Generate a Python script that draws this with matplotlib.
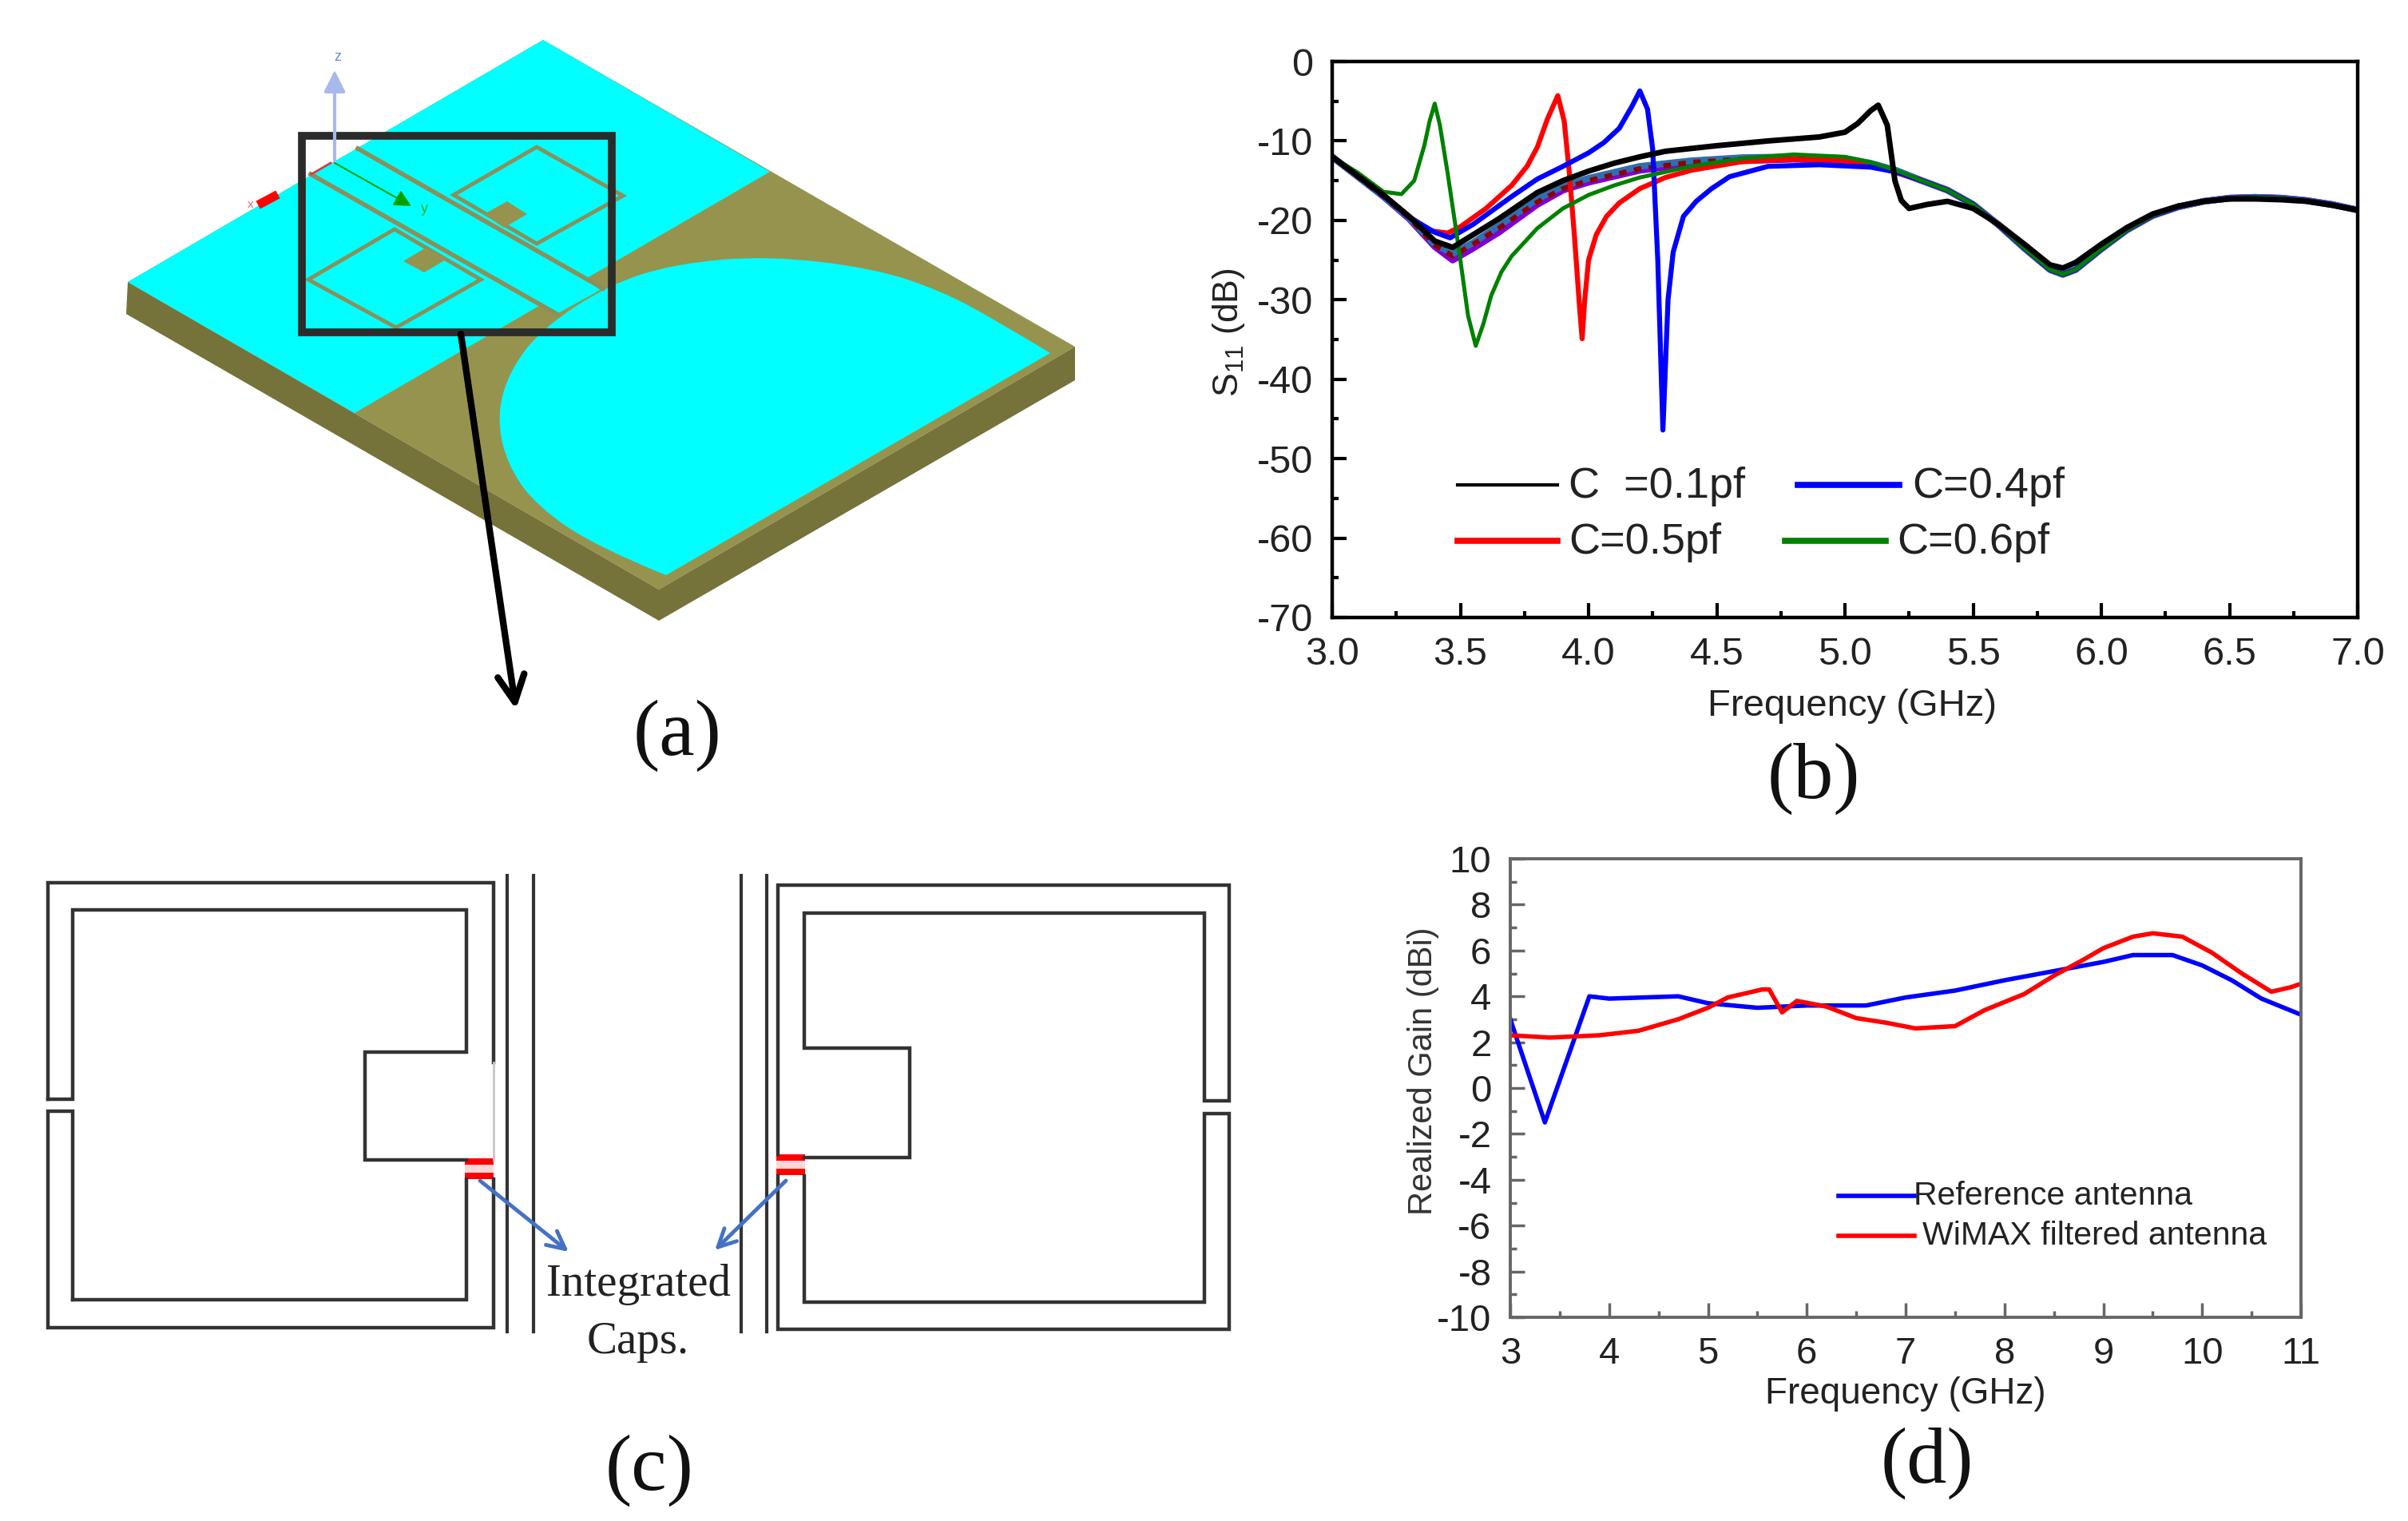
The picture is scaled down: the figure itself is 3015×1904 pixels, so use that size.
import matplotlib
matplotlib.use('Agg')
import matplotlib.pyplot as plt
from matplotlib.patches import PathPatch, Polygon, Rectangle
from matplotlib.path import Path
from matplotlib.ticker import MultipleLocator

W, H = 3015, 1904

# (b) S11 curves, shared tail above 5.3 GHz
tail_freq = [5.3, 5.4, 5.5, 5.6, 5.7, 5.8, 5.85, 5.9, 6.0, 6.1, 6.2, 6.3, 6.4, 6.5, 6.6, 6.7, 6.8, 6.9, 7.0]
tail_s11 = [-15, -16.2, -18, -20.6, -23.5, -26.2, -26.8, -26.2, -23.6, -21.2, -19.4, -18.3, -17.6, -17.2, -17.1, -17.2, -17.5, -18, -18.7]

freq_family = [3.0, 3.1, 3.2, 3.3, 3.4, 3.47, 3.55, 3.65, 3.8, 3.9, 4.0, 4.2, 4.4, 4.6, 4.8, 5.0, 5.1, 5.2]
s11_purple = [-12, -14.5, -17, -19.8, -23.3, -25, -23.5, -21.5, -18, -16.2, -15.2, -13.7, -12.9, -12.5, -12.3, -12.5, -13, -13.8]
s11_steel = [-12, -14.5, -17, -19.7, -23, -24.2, -22.8, -20.7, -17.3, -15.7, -14.7, -13.2, -12.5, -12.1, -12, -12.2, -12.8, -13.7]
s11_maroon = [-12, -14.5, -17, -19.7, -23.1, -24.5, -23, -21, -17.7, -16, -15, -13.5, -12.7, -12.3, -12.1, -12.4, -12.9, -13.8]

freq_red = [3.0, 3.1, 3.2, 3.3, 3.38, 3.45, 3.5, 3.6, 3.7, 3.76, 3.8, 3.84, 3.88, 3.905, 3.925, 3.945, 3.965, 3.975, 3.985, 4.0, 4.03, 4.07, 4.12, 4.2, 4.3, 4.4, 4.6, 4.8, 5.0, 5.1, 5.2]
s11_red = [-12, -14.3, -16.8, -19.5, -21.3, -21.6, -20.8, -18.5, -15.6, -13.2, -10.8, -7.2, -4.3, -7.5, -14, -22, -31, -34.9, -30, -25, -21.8, -19.5, -17.8, -16, -14.6, -13.7, -12.6, -12.3, -12.5, -13, -14]

freq_blue = [3.0, 3.1, 3.2, 3.3, 3.4, 3.46, 3.55, 3.7, 3.8, 3.9, 4.0, 4.06, 4.12, 4.17, 4.2, 4.23, 4.25, 4.27, 4.29, 4.31, 4.33, 4.37, 4.42, 4.48, 4.55, 4.7, 4.9, 5.1, 5.2]
s11_blue = [-12, -14.4, -16.9, -19.6, -21.5, -22.2, -20.5, -17, -14.8, -13.2, -11.5, -10.2, -8.4, -5.6, -3.7, -6, -11, -25, -46.4, -30, -24, -19.5, -17.6, -16, -14.5, -13.2, -13, -13.3, -13.9]

freq_green = [3.0, 3.1, 3.2, 3.27, 3.32, 3.36, 3.38, 3.4, 3.42, 3.45, 3.48, 3.5, 3.53, 3.56, 3.59, 3.62, 3.66, 3.7, 3.8, 3.9, 4.0, 4.1, 4.2, 4.4, 4.6, 4.8, 5.0, 5.1, 5.2]
s11_green = [-12, -14, -16.4, -16.7, -15, -10.5, -7.5, -5.3, -8, -14, -20.5, -25, -32, -35.8, -33, -29.5, -26.5, -24.5, -21, -18.5, -16.8, -15.6, -14.6, -13.2, -12.2, -11.7, -12, -12.7, -13.7]

freq_black = [3.0, 3.1, 3.2, 3.3, 3.4, 3.47, 3.55, 3.65, 3.8, 3.9, 4.0, 4.1, 4.2, 4.3, 4.5, 4.7, 4.9, 5.0, 5.05, 5.1, 5.13, 5.165, 5.195, 5.22, 5.25, 5.32, 5.4, 5.5, 5.6, 5.7, 5.8, 5.85, 5.9, 6.0, 6.1, 6.2, 6.3, 6.4, 6.5, 6.6, 6.7, 6.8, 6.9, 7.0]
s11_black = [-12, -14.4, -16.8, -19.5, -22.6, -23.4, -21.8, -19.8, -16.5, -15, -13.8, -12.8, -12, -11.3, -10.6, -10, -9.5, -8.9, -7.8, -6.2, -5.5, -8, -15, -17.5, -18.5, -18, -17.6, -18.5, -20.5, -23, -25.6, -26, -25.3, -23, -20.9, -19.2, -18.2, -17.6, -17.3, -17.3, -17.4, -17.6, -18.1, -18.7]

# (d) realized gain
freq_ref = [3.0, 3.35, 3.8, 4.0, 4.7, 5.0, 5.5, 6.0, 6.6, 7.0, 7.5, 8.0, 8.5, 9.0, 9.3, 9.7, 10.0, 10.3, 10.6, 11.0]
gain_ref = [3.0, -1.5, 4.0, 3.9, 4.0, 3.7, 3.5, 3.6, 3.6, 3.95, 4.25, 4.7, 5.1, 5.5, 5.8, 5.8, 5.35, 4.7, 3.9, 3.2]
freq_wimax = [3.0, 3.4, 3.9, 4.3, 4.7, 5.0, 5.2, 5.55, 5.62, 5.75, 5.9, 6.2, 6.5, 6.8, 7.1, 7.5, 7.8, 8.2, 8.5, 8.8, 9.0, 9.3, 9.5, 9.8, 10.1, 10.4, 10.7, 10.9, 11.0]
gain_wimax = [2.3, 2.2, 2.3, 2.5, 3.0, 3.5, 3.95, 4.3, 4.3, 3.3, 3.8, 3.55, 3.05, 2.85, 2.6, 2.7, 3.4, 4.1, 4.9, 5.6, 6.1, 6.6, 6.75, 6.6, 5.9, 5.0, 4.2, 4.4, 4.55]

# (a) antenna drawing, pixel positions
board_top = [(680, 50), (1346, 434), (825, 738), (160, 353)]
board_left = [(160, 353), (158, 393), (825, 777), (825, 738)]
board_right = [(825, 738), (825, 777), (1346, 476), (1346, 434)]
ground_cyan = [(680, 50), (964, 215), (444, 517), (160, 353)]
feed_cyan = [(448, 186), (755, 361), (697, 393), (389, 218)]
disc_pts = [(1315, 442), (1244, 399), (1178, 364), (1095, 336), (962, 320), (846, 330), (763, 356), (680, 410),
            (639, 462), (622, 519), (634, 580), (672, 634), (750, 686), (834, 720)]
srr_upper = [(672, 184), (780, 245), (672, 305), (568, 244)]
srr_lower = [(494, 287), (602, 350), (496, 410), (386, 350)]
stub_upper = [(635, 252), (660, 268), (631, 285), (606, 268)]
stub_lower = [(533, 310), (560, 324), (531, 341), (505, 327)]
end_bit = [(738, 350), (763, 335), (763, 359), (751, 363)]

# (c) resonators, pixel positions
left_paths = [
    [(60, 1376), (60, 1105), (618, 1105), (618, 1330)],
    [(60, 1376), (91, 1376), (91, 1139), (584, 1139), (584, 1317), (457, 1317), (457, 1452), (584, 1452)],
    [(91, 1627), (91, 1391), (60, 1391), (60, 1662), (618, 1662), (618, 1476)],
    [(91, 1627), (584, 1627), (584, 1476)],
]
right_paths = [
    [(974, 1445), (974, 1108), (1539, 1108), (1539, 1378), (1508, 1378), (1508, 1143), (1007, 1143), (1007, 1312), (1139, 1312), (1139, 1449), (1007, 1449)],
    [(974, 1472), (974, 1664), (1539, 1664), (1539, 1394), (1508, 1394), (1508, 1630), (1007, 1630), (1007, 1472)],
]
cpw_x = [635, 668, 928, 960]
caps_left = [(582, 1450), (582, 1468)]
caps_right = [(972, 1445), (972, 1463)]

plt.rcParams['font.family'] = ['Liberation Sans', 'DejaVu Sans']
plt.rcParams['axes.unicode_minus'] = False
plt.rcParams['mathtext.default'] = 'regular'

fig = plt.figure(figsize=(W / 100, H / 100), dpi=100)


def add_axes_px(left, top, right, bottom):
    return fig.add_axes([left / W, 1 - bottom / H, (right - left) / W, (bottom - top) / H])


def smooth_patch(pts, color):
    verts = [pts[0]]
    codes = [Path.MOVETO]
    for i in range(1, len(pts) - 1):
        nxt = pts[i + 1] if i == len(pts) - 2 else ((pts[i][0] + pts[i + 1][0]) / 2, (pts[i][1] + pts[i + 1][1]) / 2)
        verts += [pts[i], nxt]
        codes += [Path.CURVE3, Path.CURVE3]
    verts.append(pts[0])
    codes.append(Path.CLOSEPOLY)
    return PathPatch(Path(verts, codes), fc=color, ec='none')


# panel b
axb = add_axes_px(1668, 77, 2952, 773)
axb.plot(freq_family + tail_freq, s11_purple + tail_s11, color='#8000d0', lw=6)
axb.plot(freq_family + tail_freq, s11_steel + tail_s11, color='#2f6fae', lw=6)
axb.plot(freq_family + tail_freq, s11_maroon + tail_s11, color='#8b0000', lw=4.5, ls=(0, (1.5, 1.5)))
axb.plot(freq_red + tail_freq, s11_red + tail_s11, color='#ff0000', lw=4.5)
axb.plot(freq_blue + tail_freq, s11_blue + tail_s11, color='#0000ff', lw=4.5)
axb.plot(freq_green + tail_freq, s11_green + tail_s11, color='#008000', lw=3.6)
axb.plot(freq_black, s11_black, color='#000000', lw=5)
axb.set_xlim(3, 7)
axb.set_ylim(-70, 0)
axb.xaxis.set_major_locator(MultipleLocator(0.5))
axb.xaxis.set_minor_locator(MultipleLocator(0.25))
axb.yaxis.set_major_locator(MultipleLocator(10))
axb.yaxis.set_minor_locator(MultipleLocator(5))
axb.tick_params(which='major', direction='in', length=13, width=3, labelsize=35, pad=17, labelcolor='#222222')
axb.tick_params(which='minor', direction='in', length=6, width=3)
for s in axb.spines.values():
    s.set_linewidth(3.2)
axb.set_xlabel('Frequency (GHz)', fontsize=34, color='#222222', va='center')
axb.xaxis.set_label_coords(0.507, -0.16)
axb.set_ylabel('S$_{11}$ (dB)', fontsize=32, color='#222222', va='center')
axb.yaxis.set_label_coords(-0.101, 0.513)

# panel d
axd = add_axes_px(1891, 1075, 2881, 1649)
axd.plot(freq_ref, gain_ref, color='#0000ff', lw=4)
axd.plot(freq_wimax, gain_wimax, color='#ff0000', lw=4)
axd.set_xlim(3, 11)
axd.set_ylim(-10, 10)
axd.xaxis.set_major_locator(MultipleLocator(1))
axd.xaxis.set_minor_locator(MultipleLocator(0.5))
axd.yaxis.set_major_locator(MultipleLocator(2))
axd.yaxis.set_minor_locator(MultipleLocator(1))
axd.tick_params(which='major', direction='in', length=13, width=2.5, color='#666666', labelsize=34, pad=17, labelcolor='#222222')
axd.tick_params(which='minor', direction='in', length=6, width=2.5, color='#666666')
for s in axd.spines.values():
    s.set_linewidth(2.8)
    s.set_color('#666666')
axd.set_xlabel('Frequency (GHz)', fontsize=33, color='#222222', va='center')
axd.xaxis.set_label_coords(0.5, -0.168)
axd.set_ylabel('Realized Gain (dBi)', fontsize=30, color='#333333', va='center')
axd.yaxis.set_label_coords(-0.11, 0.537)

# pixel overlay for the drawings, legends and panel letters
ov = fig.add_axes([0, 0, 1, 1], zorder=5)
ov.set_xlim(0, W)
ov.set_ylim(H, 0)
ov.axis('off')

# panel a
ov.add_patch(Polygon(board_top, fc='#96934f', ec='none'))
ov.add_patch(Polygon(board_left, fc='#75723a', ec='none'))
ov.add_patch(Polygon(board_right, fc='#75723a', ec='none'))
ov.add_patch(Polygon(ground_cyan, fc='#00ffff', ec='none'))
ov.add_patch(smooth_patch(disc_pts, '#00ffff'))
ov.add_patch(Polygon(feed_cyan, fc='#00ffff', ec='none'))
ov.plot([448, 755], [186, 361], color='#8c8f5a', lw=4)
ov.plot([389, 697], [218, 393], color='#8c8f5a', lw=4)
ov.add_patch(Polygon(end_bit, fc='#96934f', ec='none'))
for shape in (srr_upper, srr_lower):
    ov.add_patch(Polygon(shape, fc='none', ec='#8c8f5a', lw=3.5))
for shape in (stub_upper, stub_lower):
    ov.add_patch(Polygon(shape, fc='#96934f', ec='none'))
ov.annotate('', xy=(419, 88), xytext=(419, 204),
            arrowprops=dict(arrowstyle='-|>', color='#a9b8ec', lw=3, mutation_scale=40, shrinkA=0, shrinkB=0))
ov.add_patch(Polygon([(419, 89), (411, 116), (427, 116)], fc='#4169e1', ec='none'))
ov.text(423, 72, 'z', fontsize=13, color='#6f86e0', ha='center', va='center')
ov.annotate('', xy=(515, 258), xytext=(419, 204),
            arrowprops=dict(arrowstyle='-|>', color='#00a000', lw=1.5, mutation_scale=32, shrinkA=0, shrinkB=0))
ov.text(531, 261, 'y', fontsize=13, color='#30b030', ha='center', va='center')
ov.plot([390, 414], [218, 204], color='#d04040', lw=2)
ov.plot([328, 343], [254, 246], color='#ff0000', lw=8)
ov.text(314, 256, 'x', fontsize=11, color='#ff6060', ha='center', va='center')
ov.add_patch(Rectangle((378, 170), 388, 246, fc='none', ec='#2b2b2b', lw=7))
ov.annotate('', xy=(646, 888), xytext=(577, 418),
            arrowprops=dict(arrowstyle='->', color='#000000', lw=6, mutation_scale=60, shrinkA=0, shrinkB=0))

# panel c
for p in left_paths + right_paths:
    ov.plot([q[0] for q in p], [q[1] for q in p], color='#333333', lw=3.2, solid_joinstyle='miter')
ov.plot([618, 618], [1330, 1452], color='#c8c8c8', lw=2)
for x in cpw_x:
    ov.plot([x, x], [1096, 1667], color='#333333', lw=3)
for x, y in caps_left[:1] + caps_right[:1]:
    ov.add_patch(Rectangle((x, y), 36, 26, fc='#ffd6d6', ec='none'))
for x, y in caps_left + caps_right:
    ov.add_patch(Rectangle((x, y), 36, 8, fc='#ff0000', ec='none'))
ov.annotate('', xy=(712, 1567), xytext=(601, 1478),
            arrowprops=dict(arrowstyle='->', color='#4472c4', lw=3.5, mutation_scale=40, shrinkA=0, shrinkB=0))
ov.annotate('', xy=(895, 1565), xytext=(984, 1478),
            arrowprops=dict(arrowstyle='->', color='#4472c4', lw=3.5, mutation_scale=40, shrinkA=0, shrinkB=0))
ov.text(799, 1608, 'Integrated', family='Liberation Serif', fontsize=41, color='#222222', ha='center', va='center')
ov.text(799, 1680, 'Caps.', family='Liberation Serif', fontsize=41, color='#222222', ha='center', va='center')

# legends
for x0, x1, y, c, lw, label, tx in [(1825, 1950, 607, '#000000', 3, 'C  =0.1pf', 1964),
                                    (2251, 2378, 607, '#0000ff', 5.5, 'C=0.4pf', 2394),
                                    (1825, 1950, 677, '#ff0000', 5.5, 'C=0.5pf', 1964),
                                    (2235, 2361, 677, '#008000', 5.5, 'C=0.6pf', 2375)]:
    ov.plot([x0, x1], [y, y], color=c, lw=lw)
    ov.text(tx, y + 2, label, fontsize=39, color='#222222', ha='left', va='center')
for x0, x1, y, c, label, tx in [(2302, 2397, 1497, '#0000ff', 'Reference antenna', 2396),
                                (2302, 2397, 1547, '#ff0000', 'WiMAX filtered antenna', 2407)]:
    ov.plot([x0, x1], [y, y], color=c, lw=4)
    ov.text(tx, y, label, fontsize=29.5, color='#222222', ha='left', va='center')

# panel letters
for x, y, letter in [(848, 921, '(a)'), (2271, 975, '(b)'), (813, 1841, '(c)'), (2413, 1832, '(d)')]:
    ov.text(x, y, letter, family='Liberation Serif', fontsize=72, color='#111111', ha='center', va='center')

fig.savefig('out.png', dpi=100)
